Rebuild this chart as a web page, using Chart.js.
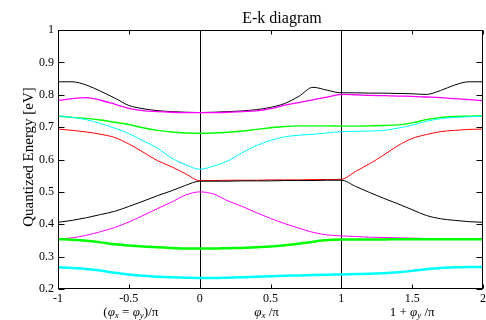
<!DOCTYPE html>
<html>
<head>
<meta charset="utf-8">
<script src="https://cdn.jsdelivr.net/npm/chart.js@4/dist/chart.umd.min.js"></script>
<style>
html,body{margin:0;padding:0;background:#fff;}
#wrap{width:486px;height:320px;position:relative;}
</style>
</head>
<body>
<div id="wrap"><canvas id="c" width="486" height="320"></canvas></div>
<script>
// ---- data ----
const kPath = [-1,-0.9,-0.8,-0.7,-0.6,-0.5,-0.4,-0.3,-0.2,-0.1,0,
               0.1,0.2,0.3,0.4,0.5,0.6,0.7,0.8,0.9,1,
               1.1,1.2,1.3,1.4,1.5,1.6,1.7,1.8,1.9,2];
const blackTop = [0.840,0.840,0.830,0.811,0.790,0.767,0.757,0.751,0.748,0.746,0.745,
                  0.746,0.748,0.750,0.754,0.761,0.773,0.795,0.823,0.814,0.806,
                  0.806,0.805,0.805,0.804,0.803,0.801,0.813,0.830,0.840,0.840];
const magentaTop = [0.782,0.788,0.791,0.783,0.771,0.758,0.751,0.748,0.746,0.745,0.745,
                    0.745,0.746,0.748,0.750,0.757,0.768,0.776,0.784,0.793,0.801,
                    0.800,0.798,0.797,0.796,0.795,0.793,0.791,0.788,0.785,0.782];
const greenTop = [0.734,0.730,0.727,0.722,0.715,0.708,0.698,0.690,0.685,0.682,0.681,
                  0.682,0.684,0.688,0.693,0.698,0.702,0.704,0.704,0.704,0.703,
                  0.703,0.704,0.705,0.707,0.713,0.723,0.730,0.733,0.734,0.735];
const cyanTop = [0.735,0.730,0.723,0.711,0.697,0.680,0.658,0.636,0.605,0.584,0.570,
                 0.580,0.596,0.621,0.643,0.659,0.670,0.675,0.678,0.682,0.686,
                 0.687,0.688,0.690,0.697,0.706,0.718,0.726,0.730,0.732,0.734];
const redBand = [0.694,0.690,0.685,0.678,0.668,0.648,0.623,0.597,0.578,0.556,0.535,
                 0.535,0.536,0.536,0.536,0.537,0.537,0.537,0.538,0.538,0.539,
                 0.563,0.587,0.614,0.643,0.665,0.677,0.686,0.690,0.693,0.694];
const blackLow = [0.406,0.412,0.420,0.430,0.440,0.455,0.471,0.488,0.503,0.520,0.533,
                  0.533,0.533,0.534,0.534,0.534,0.535,0.535,0.535,0.536,0.536,
                  0.517,0.498,0.480,0.463,0.445,0.427,0.417,0.412,0.408,0.406];
const magentaLow = [0.354,0.358,0.366,0.377,0.390,0.407,0.427,0.448,0.468,0.490,0.500,
                    0.493,0.472,0.455,0.436,0.418,0.402,0.388,0.375,0.367,0.364,
                    0.362,0.360,0.359,0.358,0.357,0.356,0.355,0.355,0.354,0.354];
const greenLow = [0.354,0.352,0.349,0.344,0.338,0.334,0.331,0.329,0.327,0.325,0.325,
                  0.325,0.326,0.327,0.329,0.331,0.335,0.340,0.346,0.351,0.353,
                  0.353,0.353,0.353,0.354,0.354,0.354,0.354,0.354,0.354,0.354];
const cyanLow = [0.267,0.265,0.262,0.257,0.250,0.245,0.241,0.238,0.236,0.235,0.234,
                 0.234,0.235,0.236,0.238,0.239,0.241,0.242,0.243,0.244,0.245,
                 0.246,0.247,0.249,0.252,0.256,0.261,0.265,0.267,0.268,0.268];
const xTicks = [-1,-0.5,0,0.5,1,1.5,2];
const yTicks = [0.2,0.3,0.4,0.5,0.6,0.7,0.8,0.9,1];
const titleText = 'E-k diagram';
const yTitle = 'Quantized Energy [eV]';

const bands = [
  {d: cyanLow, c: '#00ffff', w: 2.5},
  {d: greenLow, c: '#00ff00', w: 2.5},
  {d: magentaLow, c: '#ff00ff', w: 1},
  {d: blackLow, c: '#000000', w: 1},
  {d: redBand, c: '#ff0000', w: 1},
  {d: cyanTop, c: '#00ffff', w: 1},
  {d: greenTop, c: '#00ff00', w: 1.4},
  {d: magentaTop, c: '#ff00ff', w: 1.3},
  {d: blackTop, c: '#000000', w: 1}
];

const SERIF = "'Liberation Serif', 'DejaVu Serif', serif";

const decor = {
  id: 'decor',
  beforeDatasetsDraw(chart) {
    const ctx = chart.ctx, a = chart.chartArea, xs = chart.scales.x;
    ctx.save();
    ctx.strokeStyle = '#000';
    ctx.lineWidth = 1;
    [0, 1].forEach(v => {
      const px = Math.round(xs.getPixelForValue(v)) + 0.5;
      ctx.beginPath(); ctx.moveTo(px, a.top); ctx.lineTo(px, a.bottom); ctx.stroke();
    });
    ctx.restore();
  },
  afterDatasetsDraw(chart) {
    const ctx = chart.ctx, a = chart.chartArea, xs = chart.scales.x, ys = chart.scales.y;
    ctx.save();
    ctx.strokeStyle = '#000';
    ctx.lineWidth = 1;
    const L = Math.round(a.left) + 0.5, R = Math.round(a.right) - 0.5;
    const T = Math.round(a.top) + 0.5, B = Math.round(a.bottom) - 0.5;
    ctx.strokeRect(L, T, R - L, B - T);
    ctx.beginPath();
    yTicks.forEach(v => {
      const py = Math.round(ys.getPixelForValue(v)) + 0.5;
      ctx.moveTo(L, py); ctx.lineTo(L + 6, py);
      ctx.moveTo(R, py); ctx.lineTo(R - 6, py);
    });
    xTicks.forEach(v => {
      const px = Math.round(xs.getPixelForValue(v)) + 0.5;
      ctx.moveTo(px, T); ctx.lineTo(px, T + 4);
      ctx.moveTo(px, B); ctx.lineTo(px, B - 4);
    });
    ctx.stroke();

    // title
    ctx.fillStyle = '#000';
    ctx.font = '16px ' + SERIF;
    ctx.textAlign = 'center';
    ctx.textBaseline = 'alphabetic';
    ctx.fillText(titleText, 282, 23);

    // y title
    ctx.save();
    ctx.translate(29, 157);
    ctx.rotate(-Math.PI / 2);
    ctx.font = '15px ' + SERIF;
    ctx.textAlign = 'center';
    ctx.textBaseline = 'middle';
    ctx.fillText(yTitle, 0, 0);
    ctx.restore();

    // x sub-labels (math)
    const drawRuns = (runs, cx, baseY) => {
      let total = 0;
      runs.forEach(r => { ctx.font = r.f; total += ctx.measureText(r.t).width; });
      let x = cx - total / 2;
      ctx.textAlign = 'left';
      runs.forEach(r => {
        ctx.font = r.f;
        ctx.fillText(r.t, x, baseY + (r.dy || 0));
        x += ctx.measureText(r.t).width;
      });
    };
    const n = '13px ' + SERIF, it = 'italic 13px ' + SERIF, sub = 'italic 9px ' + SERIF;
    ctx.textBaseline = 'alphabetic';
    drawRuns([{t:'(', f:n},{t:'\u03C6', f:it},{t:'x', f:sub, dy:2},{t:' = ', f:n},
              {t:'\u03C6', f:it},{t:'y', f:sub, dy:2},{t:')/\u03C0', f:n}],
             xs.getPixelForValue(-0.5) + 2, 316);
    drawRuns([{t:'\u03C6', f:it},{t:'x', f:sub, dy:2},{t:' /\u03C0', f:n}],
             xs.getPixelForValue(0.5) - 4, 316);
    drawRuns([{t:'1 + ', f:n},{t:'\u03C6', f:it},{t:'y', f:sub, dy:2},{t:' /\u03C0', f:n}],
             xs.getPixelForValue(1.5), 316);
    ctx.restore();
  }
};

const datasets = bands.map(b => ({
  data: kPath.map((k, i) => ({x: k, y: b.d[i]})),
  borderColor: b.c,
  backgroundColor: b.c,
  borderWidth: b.w,
  pointRadius: 0,
  cubicInterpolationMode: 'monotone',
  fill: false
}));

new Chart(document.getElementById('c'), {
  type: 'line',
  data: { datasets },
  options: {
    responsive: false,
    animation: false,
    devicePixelRatio: 1,
    layout: { padding: { top: 30, right: 0, left: 0, bottom: 0 } },
    plugins: { legend: { display: false }, title: { display: false }, tooltip: { enabled: false } },
    scales: {
      x: {
        type: 'linear', min: -1, max: 2,
        afterFit: s => { s.height = 31; s.paddingRight = 3; },
        afterBuildTicks: s => { s.ticks = xTicks.map(v => ({value: v})); },
        grid: { display: false, drawTicks: false },
        border: { display: false },
        ticks: { padding: 3, color: '#000', font: { family: SERIF, size: 12 }, maxRotation: 0,
                 callback: v => String(v) }
      },
      y: {
        type: 'linear', min: 0.2, max: 1,
        afterFit: s => { s.width = 58; },
        afterBuildTicks: s => { s.ticks = yTicks.map(v => ({value: v})); },
        grid: { display: false, drawTicks: false },
        border: { display: false },
        ticks: { padding: 4, color: '#000', font: { family: SERIF, size: 12 },
                 callback: v => String(+v.toFixed(1)) }
      }
    }
  },
  plugins: [decor]
});
</script>
</body>
</html>
